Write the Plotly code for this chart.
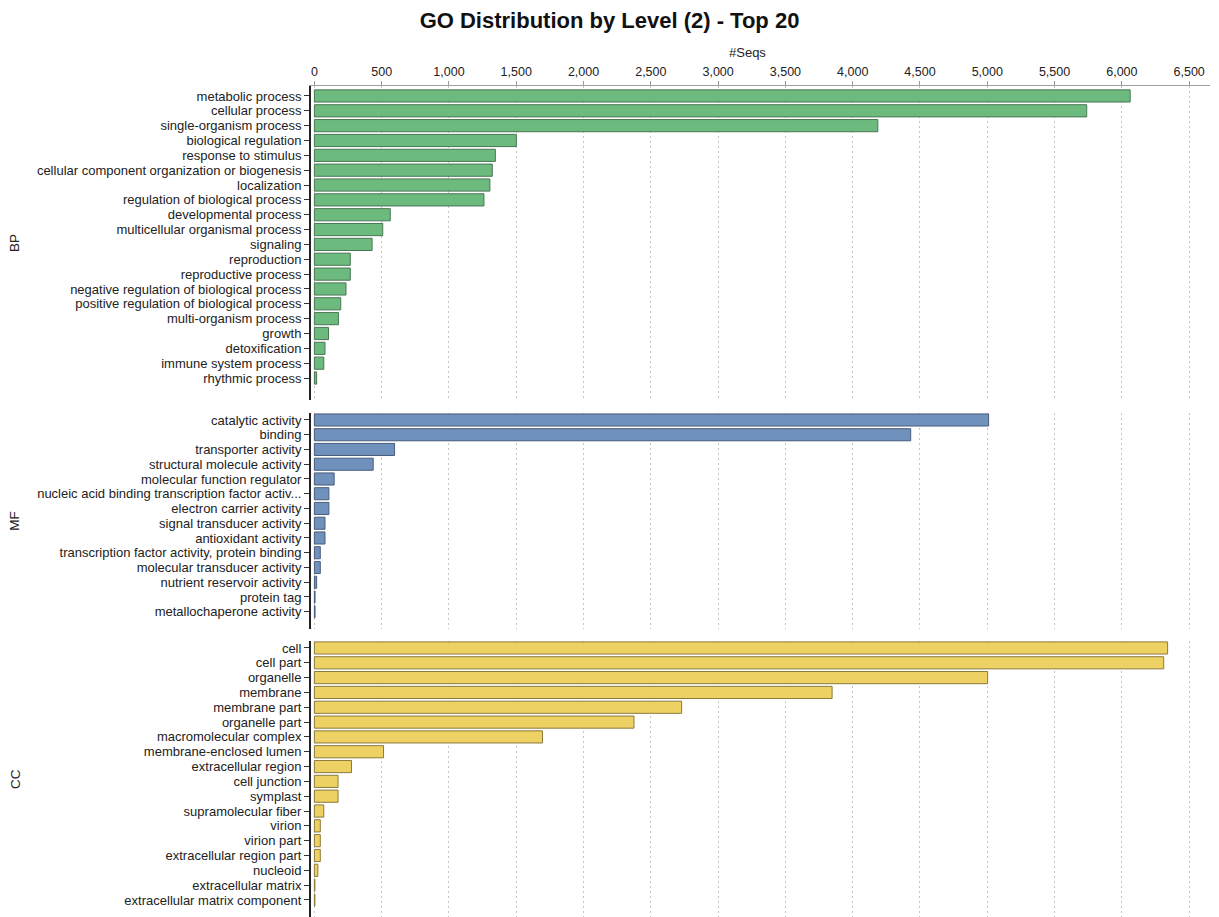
import plotly.graph_objects as go

# ---------------- data ----------------
bp_terms = ["metabolic process", "cellular process", "single-organism process",
            "biological regulation", "response to stimulus",
            "cellular component organization or biogenesis", "localization",
            "regulation of biological process", "developmental process",
            "multicellular organismal process", "signaling", "reproduction",
            "reproductive process", "negative regulation of biological process",
            "positive regulation of biological process", "multi-organism process",
            "growth", "detoxification", "immune system process", "rhythmic process"]
bp_counts = [6062, 5739, 4187, 1501, 1345, 1322, 1304, 1260, 564, 508,
             429, 267, 267, 235, 196, 179, 105, 79, 70, 17]

mf_terms = ["catalytic activity", "binding", "transporter activity",
            "structural molecule activity", "molecular function regulator",
            "nucleic acid binding transcription factor activ...",
            "electron carrier activity", "signal transducer activity",
            "antioxidant activity", "transcription factor activity, protein binding",
            "molecular transducer activity", "nutrient reservoir activity",
            "protein tag", "metallochaperone activity"]
mf_counts = [5010, 4431, 596, 437, 147, 108, 108, 79, 79, 44, 44, 17, 5, 5]

cc_terms = ["cell", "cell part", "organelle", "membrane", "membrane part",
            "organelle part", "macromolecular complex", "membrane-enclosed lumen",
            "extracellular region", "cell junction", "symplast",
            "supramolecular fiber", "virion", "virion part",
            "extracellular region part", "nucleoid", "extracellular matrix",
            "extracellular matrix component"]
cc_counts = [6340, 6311, 5003, 3847, 2729, 2375, 1695, 514, 276, 176, 176,
             70, 44, 44, 44, 26, 4, 4]

x_ticks = [0, 500, 1000, 1500, 2000, 2500, 3000, 3500, 4000, 4500, 5000, 5500, 6000, 6500]

# ---------------- layout helpers ----------------
W, H = 1219, 917
FONT = "Liberation Sans, Arial, sans-serif"
X_RANGE = [-25, 6655]

panels = [
    # name, terms, counts, fill, outline, domain px (top, bottom), top pad, bottom pad
    ("BP", bp_terms, bp_counts, "#6dba7e", "#4a7654", (86, 400), 0.67, 1.48),
    ("MF", mf_terms, mf_counts, "#7191bd", "#485c7c", (412.6, 629), 0.5, 1.17),
    ("CC", cc_terms, cc_counts, "#eed163", "#8a7a3c", (641, 917), 0.47, 1.15),
]

fig = go.Figure()
layout_axes = {}
annotations = []

for i, (name, terms, counts, fill, outline, (ptop, pbot), tpad, bpad) in enumerate(panels):
    idx = "" if i == 0 else str(i + 1)
    xa, ya = "x" + idx, "y" + idx
    n = len(terms)
    fig.add_trace(go.Bar(
        x=counts, y=list(range(n)), orientation="h",
        xaxis=xa, yaxis=ya, width=0.82,
        marker=dict(color=fill, line=dict(color=outline, width=1)),
        showlegend=False,
        hovertext=terms, hoverinfo="text+x",
    ))
    dom = [1 - pbot / H, 1 - ptop / H]
    layout_axes["xaxis" + idx] = dict(
        domain=[0, 1], anchor=ya, range=X_RANGE,
        tickvals=x_ticks, tickformat=",d",
        showticklabels=(i == 0), side="top",
        ticks="outside" if i == 0 else "", ticklen=4, tickcolor="#999",
        showline=(i == 0), linecolor="#a0a0a0", linewidth=1,
        showgrid=True, gridcolor="#c4c4c4", griddash="2px,3px", gridwidth=1,
        zeroline=False,
        tickfont=dict(family=FONT, size=12.5, color="#222"),
    )
    layout_axes["yaxis" + idx] = dict(
        domain=dom, anchor=xa,
        range=[n - 1 + bpad, -tpad],
        tickvals=list(range(n)), ticktext=terms,
        ticks="outside", ticklen=5, tickcolor="#333", tickwidth=1,
        showline=True, linecolor="#222", linewidth=2,
        showgrid=False, zeroline=False,
        tickfont=dict(family=FONT, size=13, color="#222"),
    )
    annotations.append(dict(
        text=name, xref="paper", yref="paper",
        x=(15 - 311) / (W - 311 - 9), y=1 - (ptop + pbot) / 2 / H,
        textangle=-90, showarrow=False, xanchor="center", yanchor="middle",
        font=dict(family=FONT, size=13.5, color="#222"),
    ))

annotations.append(dict(
    text="#Seqs", xref="paper", yref="paper",
    x=(747 - 311) / (W - 311 - 9), y=1 - 52 / H,
    showarrow=False, xanchor="center", yanchor="middle",
    font=dict(family=FONT, size=13, color="#222"),
))

fig.update_layout(
    width=W, height=H,
    margin=dict(l=311, r=9, t=0, b=0),
    paper_bgcolor="white", plot_bgcolor="white",
    title=dict(text="<b>GO Distribution by Level (2) - Top 20</b>",
               x=0.5, xanchor="center", xref="container",
               y=1 - 20 / H, yanchor="middle", yref="container",
               font=dict(family=FONT, size=22, color="#111")),
    annotations=annotations,
    bargap=0.18,
    **layout_axes,
)

fig.write_html("out.html")
